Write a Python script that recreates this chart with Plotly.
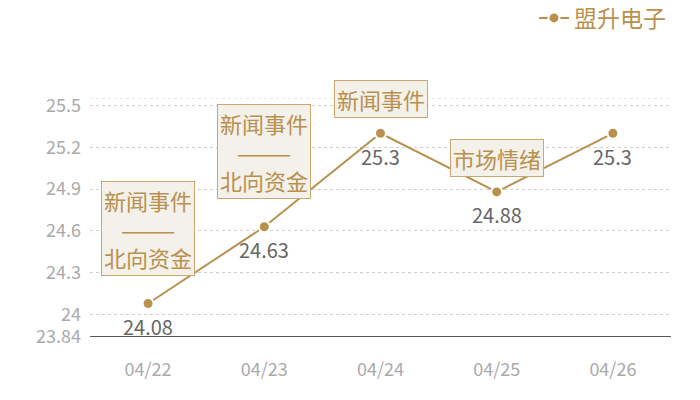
import plotly.graph_objects as go

# data
dates = ["04/22", "04/23", "04/24", "04/25", "04/26"]
prices = [24.08, 24.63, 25.3, 24.88, 25.3]
series_name = "盟升电子"
events = ["新闻事件<br>———<br>北向资金", "新闻事件<br>———<br>北向资金", "新闻事件", "市场情绪", ""]
y_ticks = [23.84, 24, 24.3, 24.6, 24.9, 25.2, 25.5]
y_tick_text = ["23.84", "24", "24.3", "24.6", "24.9", "25.2", "25.5"]

gold = "#b8914f"
font_family = "Noto Sans CJK SC, Noto Sans, sans-serif"

y_min = round(min(prices) * 0.99, 2)
y_max = max(prices) * 1.01

fig = go.Figure()
fig.add_trace(go.Scatter(
    x=dates, y=prices, name=series_name,
    mode="lines+markers",
    line=dict(color=gold, width=2),
    marker=dict(size=11, color=gold, line=dict(color="white", width=2)),
    cliponaxis=False,
))

# value labels under the points
for d, p in zip(dates, prices):
    fig.add_annotation(
        x=d, y=p, text=str(p), showarrow=False,
        yanchor="middle", yshift=-23,
        font=dict(size=20, color="#666666", family=font_family),
    )

# event labels above the points
for d, p, ev in zip(dates, prices, events):
    if not ev:
        continue
    multi = "<br>" in ev
    fig.add_annotation(
        x=d, y=p, text=ev, showarrow=False,
        yanchor="bottom", yshift=28 if multi else 15,
        font=dict(size=22, color=gold, family=font_family),
        bgcolor="#f4f0ea", bordercolor="#c9a76f", borderwidth=1, borderpad=2,
    )

# top grid line at the axis max
fig.add_shape(type="line", xref="paper", x0=0, x1=1, yref="y", y0=y_max, y1=y_max,
              line=dict(color="#d0d0d0", width=1, dash="dot"), layer="below")

# the page body adds 8px, so margins are shifted by that
fig.update_layout(
    width=700, height=400,
    margin=dict(l=82, r=37, t=90, b=71, autoexpand=False),
    paper_bgcolor="white", plot_bgcolor="white",
    font=dict(family=font_family),
    showlegend=True,
    legend=dict(orientation="h", x=1.0, xanchor="right", y=1.335, yanchor="middle",
                font=dict(size=23, color=gold, family=font_family),
                bgcolor="rgba(0,0,0,0)", borderwidth=0),
    xaxis=dict(
        type="category", range=[-0.5, 4.5], showgrid=False, ticks="",
        tickfont=dict(size=18, color="#aaaaaa"),
        showline=False, zeroline=False, ticklabelstandoff=20,
    ),
    yaxis=dict(
        range=[y_min, y_max], tickvals=y_ticks, ticktext=y_tick_text,
        tickfont=dict(size=18, color="#aaaaaa"),
        gridcolor="#d0d0d0", griddash="dot", gridwidth=1,
        zeroline=False, showline=False, ticks="", ticklabelstandoff=8,
    ),
)

# solid baseline at the bottom of the plot
fig.add_shape(type="line", xref="paper", x0=0, x1=1, yref="y", y0=y_min, y1=y_min,
              line=dict(color="#222222", width=1.5))

fig.write_html("out.html")
